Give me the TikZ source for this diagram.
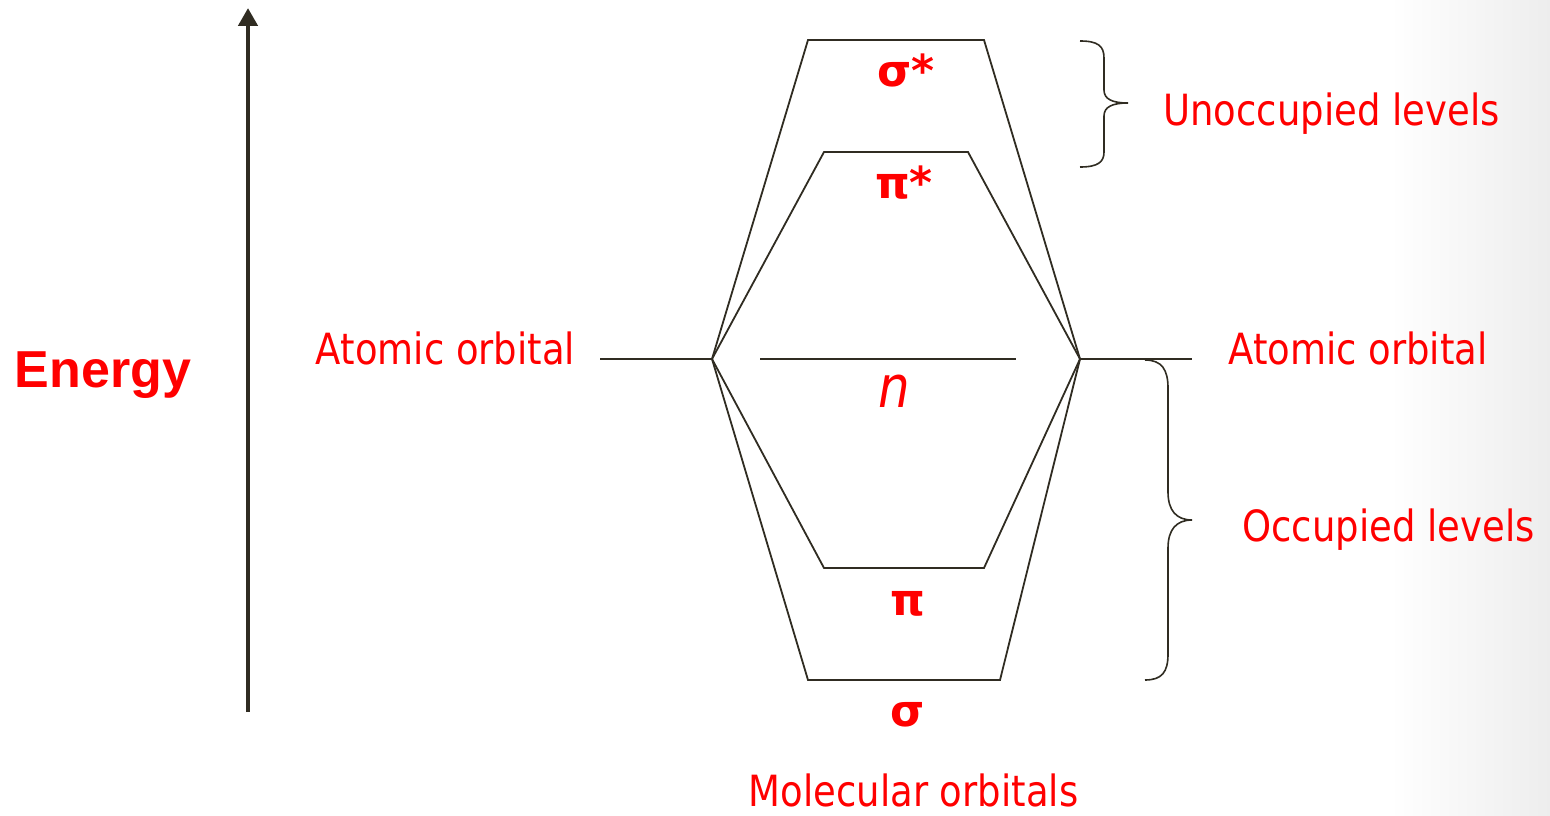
\documentclass[tikz,border=0pt]{standalone}
\usepackage{fontspec}
\usetikzlibrary{arrows.meta}
\newfontfamily\tah[FakeStretch=0.86]{DejaVu Sans}
\newfontfamily\arl{Liberation Sans}
\newfontfamily\dvs{DejaVu Sans}
\definecolor{ink}{RGB}{48,44,34}
\definecolor{lab}{RGB}{255,0,0}
\tikzset{
  level/.style={draw=ink, line width=1.8pt},
  txt/.style={text=lab, font=\tah\fontsize{43}{50}\selectfont, inner sep=0pt, anchor=base},
  greek/.style={text=lab, font=\dvs\bfseries\fontsize{44}{50}\selectfont, inner sep=0pt, anchor=base},
  brace/.style={draw=ink, line width=1.6pt},
}
\begin{document}
\begin{tikzpicture}[x=1pt,y=-1pt]
\useasboundingbox (0,0) rectangle (1550,816);
\shade[left color=white, right color=black!7] (1390,0) rectangle (1550,816);

% energy axis
\coordinate (ea) at (248,712);
\coordinate (eb) at (248,8);
\draw[draw=ink, line width=4.5pt, -{Triangle[width=19pt,length=18pt]}] (ea) -- (eb);
\node[anchor=base, inner sep=0pt, text=lab, font=\arl\bfseries\fontsize{52}{56}\selectfont] (energy) at (103,387) {Energy};

% atomic orbitals
\coordinate (La) at (600,359);
\coordinate (L) at (712,359);
\coordinate (R) at (1080,359);
\coordinate (Rb) at (1192,359);
\draw[level] (La) -- (L);
\draw[level] (R) -- (Rb);
\node[txt] (aol) at (445.5,364) {Atomic orbital};
\node[txt] (aor) at (1358,364) {Atomic orbital};

% molecular levels
\coordinate (ss1) at (808,40);   \coordinate (ss2) at (984,40);
\coordinate (ps1) at (824,152);  \coordinate (ps2) at (968,152);
\coordinate (n1)  at (760,359);  \coordinate (n2)  at (1016,359);
\coordinate (p1)  at (824,568);  \coordinate (p2)  at (984,568);
\coordinate (s1)  at (808,680);  \coordinate (s2)  at (1000,680);

\draw[level] (L) -- (ss1) -- (ss2) -- (R);
\draw[level] (L) -- (ps1) -- (ps2) -- (R);
\draw[level] (n1) -- (n2);
\draw[level] (L) -- (p1) -- (p2) -- (R);
\draw[level] (L) -- (s1) -- (s2) -- (R);

\node[greek] (lss) at (906,87) {σ*};
\node[greek] (lps) at (904,198) {π*};
\node[text=lab, font=\tah\itshape\fontsize{58}{60}\selectfont, inner sep=0pt, anchor=base] (ln) at (894,407) {n};
\node[greek] (lp) at (907.5,615) {π};
\node[greek] (ls) at (908,726) {σ};

% braces
\draw[brace] (1080,41) .. controls (1098,41) and (1104,46) .. (1104,58)
  -- (1104,90) .. controls (1104,99) and (1112,103) .. (1128,103)
  .. controls (1112,103) and (1104,107) .. (1104,116)
  -- (1104,152) .. controls (1104,162) and (1098,167) .. (1080,167);
\draw[brace] (1145,360) .. controls (1162,360) and (1168,370) .. (1168,388)
  -- (1168,492) .. controls (1168,510) and (1176,520) .. (1192,520)
  .. controls (1176,520) and (1168,530) .. (1168,548)
  -- (1168,654) .. controls (1168,672) and (1162,680) .. (1145,680);

\node[txt] (unocc) at (1331.5,125) {Unoccupied levels};
\node[txt] (occ) at (1388.5,541) {Occupied levels};
\node[txt] (mo) at (913.5,806) {Molecular orbitals};
\end{tikzpicture}
\end{document}
